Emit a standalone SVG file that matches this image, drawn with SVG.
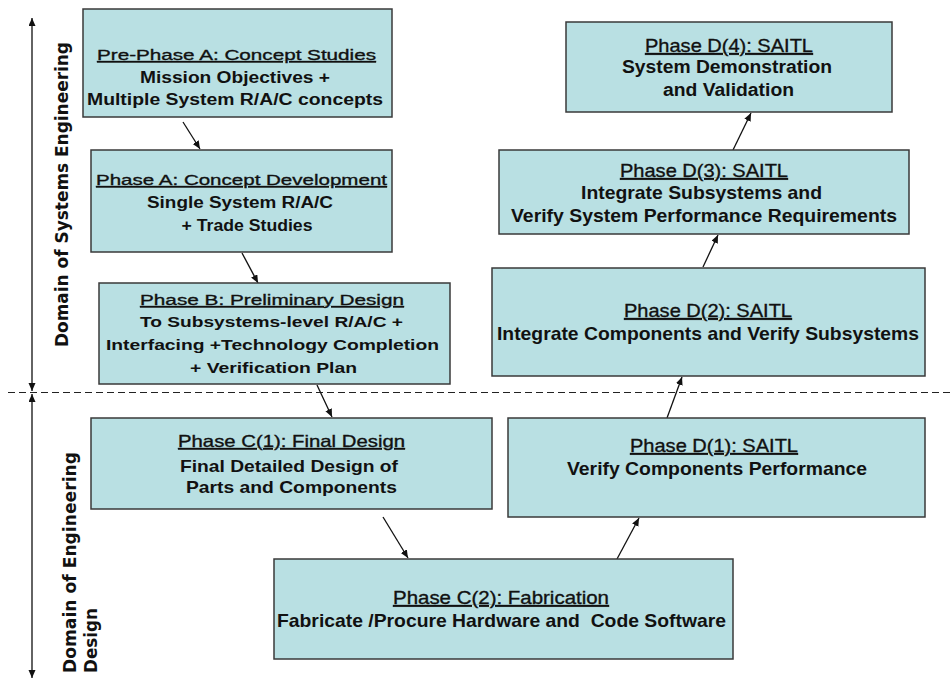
<svg xmlns="http://www.w3.org/2000/svg" width="950" height="682" viewBox="0 0 950 682">
<style>
.box{fill:#B9E0E3;stroke:#3a3a3a;stroke-width:1.5}
.t{font-family:"Liberation Sans",Arial,sans-serif;fill:#111;text-anchor:middle}
.h{font-weight:normal;text-decoration:underline;stroke:#111;stroke-width:0.35}
.b{font-weight:bold}
.lab{font-family:"DejaVu Sans",Verdana,sans-serif;font-weight:bold;fill:#111;font-size:18px}
.con{stroke:#111;stroke-width:1.3;fill:none;marker-end:url(#ah)}
.axis{stroke:#222;stroke-width:1.4;fill:none;marker-start:url(#ah2);marker-end:url(#ah2)}
</style>
<defs>
<marker id="ah" markerUnits="userSpaceOnUse" markerWidth="10" markerHeight="8" refX="8" refY="3.5" orient="auto">
<path d="M0,0 L8,3.5 L0,7 Z" fill="#111"/>
</marker>
<marker id="ah2" markerUnits="userSpaceOnUse" markerWidth="10" markerHeight="8" refX="8" refY="3.5" orient="auto-start-reverse">
<path d="M0,0 L8,3.5 L0,7 Z" fill="#111"/>
</marker>
</defs>

<g id="axes">
<line class="axis" x1="32" y1="18" x2="32" y2="391"/>
<line class="axis" x1="32" y1="394" x2="32" y2="678"/>
<line x1="8" y1="392.5" x2="950" y2="392.5" stroke="#222" stroke-width="1.2" stroke-dasharray="7,4"/>
<text class="lab" transform="translate(68,347) rotate(-90)" textLength="305" lengthAdjust="spacingAndGlyphs">Domain of Systems Engineering</text>
<text class="lab" transform="translate(76,673) rotate(-90)" textLength="221" lengthAdjust="spacingAndGlyphs">Domain of Engineering</text>
<text class="lab" transform="translate(97,673) rotate(-90)" textLength="65" lengthAdjust="spacingAndGlyphs">Design</text>
</g>

<g id="connectors">
<line class="con" x1="183" y1="122" x2="200" y2="149"/>
<line class="con" x1="242" y1="253" x2="258" y2="283"/>
<line class="con" x1="317" y1="385" x2="332" y2="417"/>
<line class="con" x1="383" y1="517" x2="408" y2="558"/>
<line class="con" x1="617" y1="559" x2="639" y2="518"/>
<line class="con" x1="667" y1="418" x2="682" y2="377"/>
<line class="con" x1="703" y1="267" x2="718" y2="235"/>
<line class="con" x1="733" y1="150" x2="751" y2="113"/>
</g>

<g id="prephaseA">
<rect class="box" x="83" y="9" width="309" height="108"/>
<text class="t h" x="236.5" y="60" font-size="15.5" textLength="279" lengthAdjust="spacingAndGlyphs">Pre-Phase A: Concept Studies</text>
<text class="t b" x="235" y="83" font-size="16" textLength="190" lengthAdjust="spacingAndGlyphs">Mission Objectives +</text>
<text class="t b" x="235" y="105" font-size="16" textLength="296" lengthAdjust="spacingAndGlyphs">Multiple System R/A/C concepts</text>
</g>

<g id="phaseA">
<rect class="box" x="91" y="150" width="301" height="102"/>
<text class="t h" x="241.5" y="185" font-size="15.5" textLength="291" lengthAdjust="spacingAndGlyphs">Phase A: Concept Development</text>
<text class="t b" x="240" y="208" font-size="16" textLength="186" lengthAdjust="spacingAndGlyphs">Single System R/A/C</text>
<text class="t b" x="247" y="231" font-size="16" textLength="131" lengthAdjust="spacingAndGlyphs">+ Trade Studies</text>
</g>

<g id="phaseB">
<rect class="box" x="99" y="283" width="351" height="101"/>
<text class="t h" x="272" y="305" font-size="15.5" textLength="264" lengthAdjust="spacingAndGlyphs">Phase B: Preliminary Design</text>
<text class="t b" x="271.5" y="327" font-size="15.5" textLength="263" lengthAdjust="spacingAndGlyphs">To Subsystems-level R/A/C +</text>
<text class="t b" x="272.5" y="350" font-size="15.5" textLength="333" lengthAdjust="spacingAndGlyphs">Interfacing +Technology Completion</text>
<text class="t b" x="273.5" y="373" font-size="15.5" textLength="167" lengthAdjust="spacingAndGlyphs">+ Verification Plan</text>
</g>

<g id="phaseC1">
<rect class="box" x="91" y="418" width="401" height="91"/>
<text class="t h" x="291.5" y="447" font-size="16.5" textLength="227" lengthAdjust="spacingAndGlyphs">Phase C(1): Final Design</text>
<text class="t b" x="289" y="472" font-size="16.5" textLength="218" lengthAdjust="spacingAndGlyphs">Final Detailed Design of</text>
<text class="t b" x="291.5" y="493" font-size="16.5" textLength="211" lengthAdjust="spacingAndGlyphs">Parts and Components</text>
</g>

<g id="phaseC2">
<rect class="box" x="274" y="559" width="459" height="100"/>
<text class="t h" x="501" y="604" font-size="18.5" textLength="216" lengthAdjust="spacingAndGlyphs">Phase C(2): Fabrication</text>
<text class="t b" x="501.5" y="627" font-size="18.5" textLength="449" lengthAdjust="spacingAndGlyphs" xml:space="preserve">Fabricate /Procure Hardware and  Code Software</text>
</g>

<g id="phaseD1">
<rect class="box" x="508" y="418" width="417" height="99"/>
<text class="t h" x="714" y="452" font-size="18.5" textLength="168" lengthAdjust="spacingAndGlyphs">Phase D(1): SAITL</text>
<text class="t b" x="717" y="475" font-size="18.5" textLength="300" lengthAdjust="spacingAndGlyphs">Verify Components Performance</text>
</g>

<g id="phaseD2">
<rect class="box" x="492" y="268" width="433" height="108"/>
<text class="t h" x="708" y="317" font-size="19" textLength="168" lengthAdjust="spacingAndGlyphs">Phase D(2): SAITL</text>
<text class="t b" x="708" y="340" font-size="19" textLength="422" lengthAdjust="spacingAndGlyphs">Integrate Components and Verify Subsystems</text>
</g>

<g id="phaseD3">
<rect class="box" x="499" y="150" width="410" height="84"/>
<text class="t h" x="704" y="177" font-size="18.5" textLength="168" lengthAdjust="spacingAndGlyphs">Phase D(3): SAITL</text>
<text class="t b" x="701.5" y="199" font-size="18.5" textLength="241" lengthAdjust="spacingAndGlyphs">Integrate Subsystems and</text>
<text class="t b" x="704" y="222" font-size="18.5" textLength="386" lengthAdjust="spacingAndGlyphs">Verify System Performance Requirements</text>
</g>

<g id="phaseD4">
<rect class="box" x="566" y="22" width="326" height="90"/>
<text class="t h" x="729" y="52" font-size="19" textLength="168" lengthAdjust="spacingAndGlyphs">Phase D(4): SAITL</text>
<text class="t b" x="727" y="73" font-size="18" textLength="210" lengthAdjust="spacingAndGlyphs">System Demonstration</text>
<text class="t b" x="728.5" y="96" font-size="18" textLength="131" lengthAdjust="spacingAndGlyphs">and Validation</text>
</g>
</svg>
